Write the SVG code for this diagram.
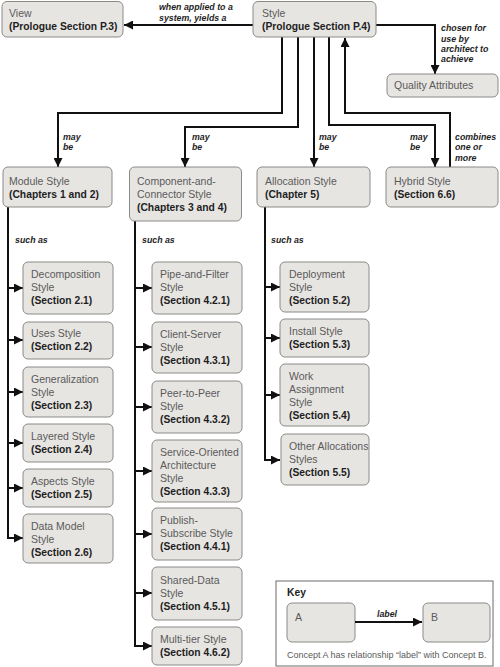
<svg xmlns="http://www.w3.org/2000/svg" width="500" height="667" viewBox="0 0 500 667">
<defs>
<style>
.box{fill:#e7e5e2;stroke:#8c8a87;stroke-width:1}
.t{font-family:"Liberation Sans",Arial,sans-serif;font-size:10.5px;fill:#5a5a5a}
.b{font-family:"Liberation Sans",Arial,sans-serif;font-size:10.3px;font-weight:bold;fill:#1e1e1e}
.lbl{font-family:"Liberation Sans",Arial,sans-serif;font-size:8.8px;font-weight:bold;font-style:italic;fill:#1e1e1e}
.cap{font-family:"Liberation Sans",Arial,sans-serif;font-size:9px;fill:#5a5a5a}
.ln{fill:none;stroke:#111;stroke-width:2;marker-end:url(#ah)}
.ln0{fill:none;stroke:#111;stroke-width:2}
</style>
<marker id="ah" markerUnits="userSpaceOnUse" markerWidth="9" markerHeight="9" refX="9" refY="4.5" orient="auto">
<path d="M0,0 L9,4.5 L0,9 z" fill="#111"/>
</marker>
</defs>
<rect width="500" height="667" fill="#fff"/>

<g id="connectors">
<path class="ln" d="M253,25 H124"/>
<path class="ln" d="M376,25 H435 V74"/>
<path class="ln" d="M282,37 V113 H58 V167"/>
<path class="ln" d="M298,37 V127 H185 V167"/>
<path class="ln" d="M314,37 V167"/>
<path class="ln" d="M329,37 V125 H435 V167"/>
<path class="ln" d="M450,167 V113 H345 V38"/>
<path class="ln0" d="M8,207 V538"/>
<path class="ln0" d="M135,221 V646"/>
<path class="ln0" d="M265,207 V460"/>
<path class="ln" d="M8,288 H23"/>
<path class="ln" d="M8,340 H23"/>
<path class="ln" d="M8,392 H23"/>
<path class="ln" d="M8,443 H23"/>
<path class="ln" d="M8,488 H23"/>
<path class="ln" d="M7,538 H23"/>
<path class="ln" d="M135,288 H152"/>
<path class="ln" d="M135,347 H152"/>
<path class="ln" d="M135,407 H152"/>
<path class="ln" d="M135,471 H152"/>
<path class="ln" d="M135,534 H152"/>
<path class="ln" d="M135,593 H152"/>
<path class="ln" d="M134,646 H152"/>
<path class="ln" d="M265,287 H280"/>
<path class="ln" d="M265,338 H280"/>
<path class="ln" d="M265,395 H280"/>
<path class="ln" d="M264,460 H280"/>
<text class="lbl" x="159" y="10">when applied to a</text>
<text class="lbl" x="159" y="21">system, yields a</text>
<text class="lbl" x="441" y="31">chosen for</text>
<text class="lbl" x="441" y="41.5">use by</text>
<text class="lbl" x="441" y="52">architect to</text>
<text class="lbl" x="441" y="62">achieve</text>
<text class="lbl" x="63" y="139.5">may</text>
<text class="lbl" x="63" y="150">be</text>
<text class="lbl" x="192" y="139.5">may</text>
<text class="lbl" x="192" y="150">be</text>
<text class="lbl" x="319" y="139.5">may</text>
<text class="lbl" x="319" y="150">be</text>
<text class="lbl" x="410" y="139.5">may</text>
<text class="lbl" x="410" y="150">be</text>
<text class="lbl" x="455" y="139.5">combines</text>
<text class="lbl" x="455" y="150">one or</text>
<text class="lbl" x="455" y="160.5">more</text>
<text class="lbl" x="15" y="243">such as</text>
<text class="lbl" x="142" y="243">such as</text>
<text class="lbl" x="271" y="243">such as</text>
</g>

<g id="view"><rect class="box" x="2" y="1.5" width="121" height="35.5" rx="5"/>
<text class="t" x="9" y="17">View</text><text class="b" x="9" y="30">(Prologue Section P.3)</text></g>
<g id="style"><rect class="box" x="253" y="1.5" width="123" height="35.5" rx="5"/>
<text class="t" x="262" y="17">Style</text><text class="b" x="262" y="30">(Prologue Section P.4)</text></g>
<g id="quality"><rect class="box" x="387" y="74" width="111" height="23" rx="5"/>
<text class="t" x="394" y="89">Quality Attributes</text></g>

<g id="module"><rect class="box" x="3" y="167" width="109" height="40" rx="5"/>
<text class="t" x="9" y="184.5">Module Style</text><text class="b" x="9" y="197.5">(Chapters 1 and 2)</text></g>
<g id="cc"><rect class="box" x="129.5" y="167" width="112" height="54" rx="5"/>
<text class="t" x="137" y="184.5">Component-and-</text><text class="t" x="137" y="197.5">Connector Style</text><text class="b" x="137" y="210.5">(Chapters 3 and 4)</text></g>
<g id="allocation"><rect class="box" x="257" y="167" width="113" height="40" rx="5"/>
<text class="t" x="265" y="184.5">Allocation Style</text><text class="b" x="265" y="197.5">(Chapter 5)</text></g>
<g id="hybrid"><rect class="box" x="386" y="167" width="112" height="40" rx="5"/>
<text class="t" x="394" y="184.5">Hybrid Style</text><text class="b" x="394" y="197.5">(Section 6.6)</text></g>

<g id="decomposition"><rect class="box" x="23" y="262" width="90" height="52" rx="5"/>
<text class="t" x="31" y="278">Decomposition</text><text class="t" x="31" y="291">Style</text><text class="b" x="31" y="304">(Section 2.1)</text></g>
<g id="uses"><rect class="box" x="23" y="322" width="90" height="37" rx="5"/>
<text class="t" x="31" y="337">Uses Style</text><text class="b" x="31" y="350">(Section 2.2)</text></g>
<g id="generalization"><rect class="box" x="23" y="367" width="90" height="50" rx="5"/>
<text class="t" x="31" y="382.5">Generalization</text><text class="t" x="31" y="395.5">Style</text><text class="b" x="31" y="408.5">(Section 2.3)</text></g>
<g id="layered"><rect class="box" x="23" y="424" width="90" height="38" rx="5"/>
<text class="t" x="31" y="439.5">Layered Style</text><text class="b" x="31" y="452.5">(Section 2.4)</text></g>
<g id="aspects"><rect class="box" x="23" y="469" width="90" height="38" rx="5"/>
<text class="t" x="31" y="484.5">Aspects Style</text><text class="b" x="31" y="497.5">(Section 2.5)</text></g>
<g id="datamodel"><rect class="box" x="23" y="514" width="90" height="49" rx="5"/>
<text class="t" x="31" y="529.5">Data Model</text><text class="t" x="31" y="542.5">Style</text><text class="b" x="31" y="555.5">(Section 2.6)</text></g>

<g id="pipefilter"><rect class="box" x="152" y="262" width="90" height="52" rx="5"/>
<text class="t" x="160" y="278">Pipe-and-Filter</text><text class="t" x="160" y="291">Style</text><text class="b" x="160" y="304">(Section 4.2.1)</text></g>
<g id="clientserver"><rect class="box" x="152" y="322" width="90" height="51" rx="5"/>
<text class="t" x="160" y="337.5">Client-Server</text><text class="t" x="160" y="350.5">Style</text><text class="b" x="160" y="363.5">(Section 4.3.1)</text></g>
<g id="peertopeer"><rect class="box" x="152" y="381" width="90" height="52" rx="5"/>
<text class="t" x="160" y="397">Peer-to-Peer</text><text class="t" x="160" y="410">Style</text><text class="b" x="160" y="423">(Section 4.3.2)</text></g>
<g id="soa"><rect class="box" x="152" y="440" width="90" height="62" rx="5"/>
<text class="t" x="160" y="456">Service-Oriented</text><text class="t" x="160" y="469">Architecture</text><text class="t" x="160" y="482">Style</text><text class="b" x="160" y="495">(Section 4.3.3)</text></g>
<g id="pubsub"><rect class="box" x="152" y="508" width="90" height="52" rx="5"/>
<text class="t" x="160" y="524">Publish-</text><text class="t" x="160" y="537">Subscribe Style</text><text class="b" x="160" y="550">(Section 4.4.1)</text></g>
<g id="shareddata"><rect class="box" x="152" y="567" width="90" height="53" rx="5"/>
<text class="t" x="160" y="583.5">Shared-Data</text><text class="t" x="160" y="596.5">Style</text><text class="b" x="160" y="609.5">(Section 4.5.1)</text></g>
<g id="multitier"><rect class="box" x="152" y="627" width="90" height="38" rx="5"/>
<text class="t" x="160" y="642.5">Multi-tier Style</text><text class="b" x="160" y="655.5">(Section 4.6.2)</text></g>

<g id="deployment"><rect class="box" x="280" y="262" width="89" height="50" rx="5"/>
<text class="t" x="289" y="277.5">Deployment</text><text class="t" x="289" y="290.5">Style</text><text class="b" x="289" y="303.5">(Section 5.2)</text></g>
<g id="install"><rect class="box" x="280" y="319" width="89" height="38" rx="5"/>
<text class="t" x="289" y="334.5">Install Style</text><text class="b" x="289" y="347.5">(Section 5.3)</text></g>
<g id="workassignment"><rect class="box" x="280" y="364" width="89" height="62" rx="5"/>
<text class="t" x="289" y="380">Work</text><text class="t" x="289" y="393">Assignment</text><text class="t" x="289" y="406">Style</text><text class="b" x="289" y="419">(Section 5.4)</text></g>
<g id="otherallocations"><rect class="box" x="281" y="434" width="88" height="51" rx="5"/>
<text class="t" x="289" y="450">Other Allocations</text><text class="t" x="289" y="463">Styles</text><text class="b" x="289" y="476">(Section 5.5)</text></g>

<g id="key">
<rect x="276" y="581" width="217" height="85" fill="#fff" stroke="#6a6a6a" stroke-width="1"/>
<text class="b" x="287" y="596">Key</text>
<rect class="box" x="287" y="603" width="68" height="39" rx="5"/>
<text class="t" x="295" y="621">A</text>
<rect class="box" x="423" y="603" width="67" height="39" rx="5"/>
<text class="t" x="431" y="621">B</text>
<path class="ln" d="M355,622 H422"/>
<text class="lbl" x="387" y="617" text-anchor="middle">label</text>
<text class="cap" x="287" y="658">Concept A has relationship “label” with Concept B.</text>
</g>
</svg>
